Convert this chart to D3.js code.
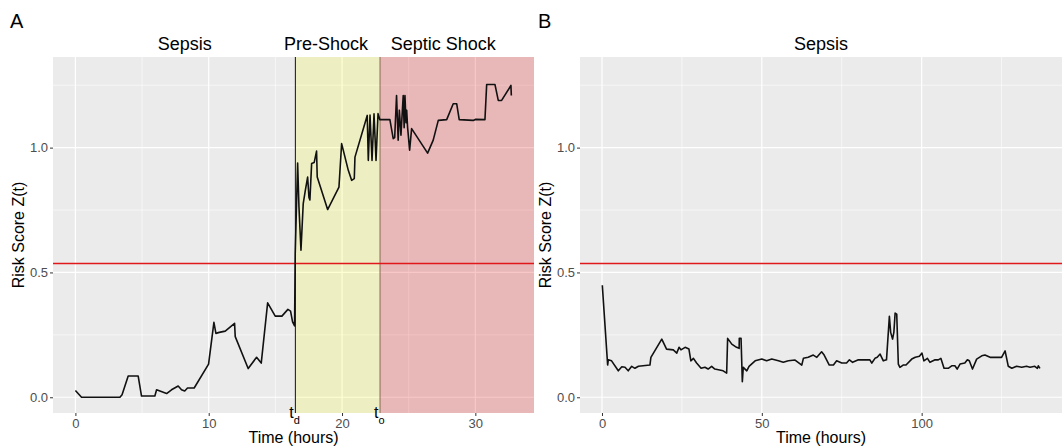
<!DOCTYPE html>
<html>
<head>
<meta charset="utf-8">
<script src="https://cdn.jsdelivr.net/npm/d3@7"></script>
<style>
    body { margin: 0; background: #fff; }
    svg { display: block; font-family: "Liberation Sans", Arial, sans-serif; }
</style>
</head>
<body>
<svg id="chart"></svg>
<script>
// Panel A: patient who goes on to septic shock
const aTime = [0.0, 0.46, 3.34, 3.5, 3.96, 4.71, 4.96, 5.96, 6.09, 6.34, 6.84, 7.21, 7.71, 7.96, 8.2, 8.41, 8.91,
    9.99, 10.39, 10.54, 10.79, 11.24, 11.94, 11.99, 12.96, 13.59, 13.94, 14.42, 14.99, 15.49, 15.94, 16.14, 16.29, 16.44,
    16.49, 16.67, 16.77, 16.92, 17.09, 17.25, 17.42, 17.52, 17.59, 17.72, 17.91, 18.09, 18.14, 18.92, 19.77, 19.97,
    20.47, 20.72, 20.92, 20.97, 21.89, 21.97, 22.1, 22.25, 22.4, 22.55, 22.7, 22.84,
    23.59, 23.84, 23.95, 24.09, 24.21, 24.3, 24.42, 24.59, 24.66, 24.72, 24.8, 24.85, 24.92, 25.07, 25.22,
    26.42, 26.84, 27.22, 27.85, 28.34, 28.6, 28.79, 29.84, 30.0, 30.72, 30.85, 31.47, 31.72, 31.97, 32.67, 32.7];
const aScore = [0.027, 0.0, 0.0, 0.01, 0.085, 0.085, 0.005, 0.005, 0.03, 0.025, 0.015, 0.03, 0.045, 0.03, 0.025, 0.037, 0.037,
    0.133, 0.30, 0.256, 0.26, 0.265, 0.296, 0.243, 0.115, 0.16, 0.137, 0.378, 0.325, 0.325, 0.352, 0.345, 0.302, 0.286,
    0.576, 0.938, 0.762, 0.589, 0.776, 0.83, 0.882, 0.80, 0.79, 0.936, 0.94, 0.986, 0.882, 0.752, 0.842, 1.016,
    0.909, 0.869, 0.876, 0.962, 1.129, 0.949, 1.13, 0.949, 1.135, 0.949, 1.136, 1.112,
    1.112, 1.036, 1.04, 1.209, 1.03, 1.15, 1.05, 1.209, 1.08, 1.209, 1.10, 1.15, 1.08, 0.99, 1.076,
    0.978, 1.03, 1.109, 1.112, 1.176, 1.176, 1.112, 1.109, 1.113, 1.112, 1.253, 1.253, 1.189, 1.189, 1.249, 1.209];

// Panel B: patient who stays in sepsis
const bTime = [0.1, 1.77, 1.97, 3.0, 5.1, 6.2, 7.2, 8.2, 9.3, 10.3, 11.4, 15.0, 15.3, 18.7, 20.2, 22.3, 23.4, 24.1, 24.7,
    26.0, 27.2, 27.8, 28.6, 29.6, 31.0, 32.2, 33.2, 34.3, 35.3, 37.9, 39.0, 39.3, 40.6, 42.1, 42.9, 42.95, 43.5, 43.9,
    44.2, 45.3, 46.0, 47.9, 50.0, 51.5, 53.1, 55.2, 56.7, 58.3, 60.4, 62.5, 63.0, 64.5, 66.1, 67.2, 68.7, 69.5,
    71.1, 72.4, 73.4, 75.0, 76.5, 77.4, 78.4, 80.2, 83.8, 84.4, 85.4, 86.1, 87.0, 88.0, 89.0, 89.9, 90.3, 90.9,
    91.3, 91.7, 92.2, 92.7, 93.2, 94.2, 95.1, 96.9, 98.0, 99.3, 100.1, 100.7, 101.8, 102.6, 104.2, 105.2, 106.0,
    107.0, 108.3, 109.4, 110.4, 111.1, 112.0, 113.5, 114.3, 114.9, 115.9, 117.2, 118.8, 119.8, 121.4, 125.0, 126.1,
    127.1, 128.2, 129.7, 131.3, 132.8, 133.9, 135.4, 136.2, 136.5, 137.0];
const bScore = [0.449, 0.129, 0.150, 0.146, 0.106, 0.122, 0.12, 0.106, 0.124, 0.116, 0.124, 0.129, 0.16, 0.233, 0.193, 0.19, 0.177, 0.2, 0.19,
    0.2, 0.193, 0.146, 0.156, 0.137, 0.116, 0.12, 0.113, 0.124, 0.113, 0.106, 0.097, 0.236, 0.213, 0.2, 0.196, 0.236, 0.236, 0.062,
    0.12, 0.106, 0.124, 0.146, 0.153, 0.146, 0.153, 0.146, 0.14, 0.146, 0.149, 0.129, 0.156, 0.16, 0.169, 0.16, 0.182, 0.169,
    0.129, 0.129, 0.146, 0.137, 0.137, 0.15, 0.14, 0.15, 0.15, 0.137, 0.156, 0.16, 0.173, 0.146, 0.15, 0.324, 0.26, 0.233,
    0.26, 0.337, 0.333, 0.133, 0.12, 0.129, 0.129, 0.153, 0.16, 0.164, 0.177, 0.146, 0.156, 0.14, 0.15, 0.15, 0.156,
    0.116, 0.116, 0.126, 0.126, 0.113, 0.133, 0.137, 0.15, 0.146, 0.113, 0.153, 0.166, 0.169, 0.16, 0.16, 0.186,
    0.124, 0.116, 0.124, 0.12, 0.124, 0.12, 0.124, 0.116, 0.126, 0.116];

// Shared settings
const threshold = 0.536;
const tD = 16.5;   // detection time
const tO = 22.85;  // shock onset
const yMajor = [0, 0.5, 1.0];
const yMinor = [0.25, 0.75, 1.25];
const xMajorA = [0, 10, 20, 30];
const xMinorA = [5, 15, 25];
const xMajorB = [0, 50, 100];
const xMinorB = [25, 75, 125];
const phaseLabels = ["Sepsis", "Pre-Shock", "Septic Shock"];
const phaseLabelX = [8.2, 18.8, 27.6];

const width = 1063;
const height = 448;

const svg = d3.select("#chart").attr("width", width).attr("height", height);

function drawPanel(opts) {
    const x = d3.scaleLinear().domain(opts.xDomain).range([opts.left, opts.right]);
    const y = d3.scaleLinear().domain([-0.063, 1.363]).range([413, 57]);

    const g = svg.append("g");

    // Grey panel background
    g.append("rect")
        .attr("x", opts.left).attr("y", 57)
        .attr("width", opts.right - opts.left).attr("height", 413 - 57)
        .attr("fill", "#ebebeb");

    // Minor gridlines
    opts.xMinor.forEach(v => {
        g.append("line").attr("x1", x(v)).attr("x2", x(v)).attr("y1", 57).attr("y2", 413)
            .attr("stroke", "#fff").attr("stroke-width", 0.6);
    });
    yMinor.forEach(v => {
        g.append("line").attr("x1", opts.left).attr("x2", opts.right).attr("y1", y(v)).attr("y2", y(v))
            .attr("stroke", "#fff").attr("stroke-width", 0.6);
    });
    // Major gridlines
    opts.xMajor.forEach(v => {
        g.append("line").attr("x1", x(v)).attr("x2", x(v)).attr("y1", 57).attr("y2", 413)
            .attr("stroke", "#fff").attr("stroke-width", 1.2);
    });
    yMajor.forEach(v => {
        g.append("line").attr("x1", opts.left).attr("x2", opts.right).attr("y1", y(v)).attr("y2", y(v))
            .attr("stroke", "#fff").attr("stroke-width", 1.2);
    });

    // Phase shading (only panel A)
    if (opts.shade) {
        g.append("rect")
            .attr("x", x(tD)).attr("y", 57)
            .attr("width", x(tO) - x(tD)).attr("height", 413 - 57)
            .attr("fill", "rgb(255,253,0)").attr("fill-opacity", 0.17);
        g.append("rect")
            .attr("x", x(tO)).attr("y", 57)
            .attr("width", opts.right - x(tO)).attr("height", 413 - 57)
            .attr("fill", "rgb(221,0,5)").attr("fill-opacity", 0.22);
        g.append("line").attr("x1", x(tD)).attr("x2", x(tD)).attr("y1", 57).attr("y2", 413)
            .attr("stroke", "#111").attr("stroke-width", 1);
        g.append("line").attr("x1", x(tO)).attr("x2", x(tO)).attr("y1", 57).attr("y2", 413)
            .attr("stroke", "#8a6a55").attr("stroke-width", 1);
    }

    // Threshold line
    g.append("line").attr("x1", opts.left).attr("x2", opts.right)
        .attr("y1", y(threshold)).attr("y2", y(threshold))
        .attr("stroke", "#e0181b").attr("stroke-width", 1.4);

    // Risk score trace
    const line = d3.line().x(d => x(d[0])).y(d => y(d[1]));
    g.append("path")
        .datum(d3.zip(opts.time, opts.score))
        .attr("d", line)
        .attr("fill", "none")
        .attr("stroke", "#111")
        .attr("stroke-width", 1.6)
        .attr("stroke-linejoin", "round");

    // Axes
    const xAxis = g.append("g").attr("transform", "translate(0,413)")
        .call(d3.axisBottom(x).tickValues(opts.xMajor).tickSize(3).tickPadding(3));
    const yAxis = g.append("g").attr("transform", `translate(${opts.left},0)`)
        .call(d3.axisLeft(y).tickValues(yMajor).tickFormat(d3.format(".1f")).tickSize(3).tickPadding(2));
    [xAxis, yAxis].forEach(a => {
        a.select(".domain").remove();
        a.selectAll(".tick line").attr("stroke", "#333");
        a.selectAll(".tick text").attr("fill", "#4d4d4d").attr("font-size", "13px")
            .attr("font-family", "Liberation Sans, Arial, sans-serif");
    });

    // Axis titles
    g.append("text")
        .attr("x", (opts.left + opts.right) / 2).attr("y", 443)
        .attr("text-anchor", "middle").attr("font-size", "16px")
        .text("Time (hours)");
    g.append("text")
        .attr("transform", `translate(${opts.left - 29},235) rotate(-90)`)
        .attr("text-anchor", "middle").attr("font-size", "16px")
        .text("Risk Score Z(t)");

    // Panel letter
    g.append("text").attr("x", opts.letterX).attr("y", 28)
        .attr("font-size", "20px").text(opts.letter);

    return { g, x, y };
}

const pa = drawPanel({
    left: 53, right: 534, xDomain: [-1.68, 34.4],
    xMajor: xMajorA, xMinor: xMinorA,
    time: aTime, score: aScore, shade: true,
    letter: "A", letterX: 10
});

const pb = drawPanel({
    left: 580, right: 1062, xDomain: [-6.88, 143.9],
    xMajor: xMajorB, xMinor: xMinorB,
    time: bTime, score: bScore, shade: false,
    letter: "B", letterX: 538
});

// Phase titles above panel A
phaseLabels.forEach((lab, i) => {
    pa.g.append("text")
        .attr("x", pa.x(phaseLabelX[i])).attr("y", 50)
        .attr("text-anchor", "middle").attr("font-size", "18px")
        .text(lab);
});
pb.g.append("text")
    .attr("x", (580 + 1062) / 2).attr("y", 50)
    .attr("text-anchor", "middle").attr("font-size", "18px")
    .text("Sepsis");

// t_d and t_o markers under the shaded region
[["d", tD], ["o", tO]].forEach(([sub, t]) => {
    const lbl = pa.g.append("text")
        .attr("x", pa.x(t) - 6).attr("y", 418)
        .attr("font-size", "16px");
    lbl.append("tspan").text("t");
    lbl.append("tspan").attr("dy", 6).attr("font-size", "11px").text(sub);
});
</script>
</body>
</html>
